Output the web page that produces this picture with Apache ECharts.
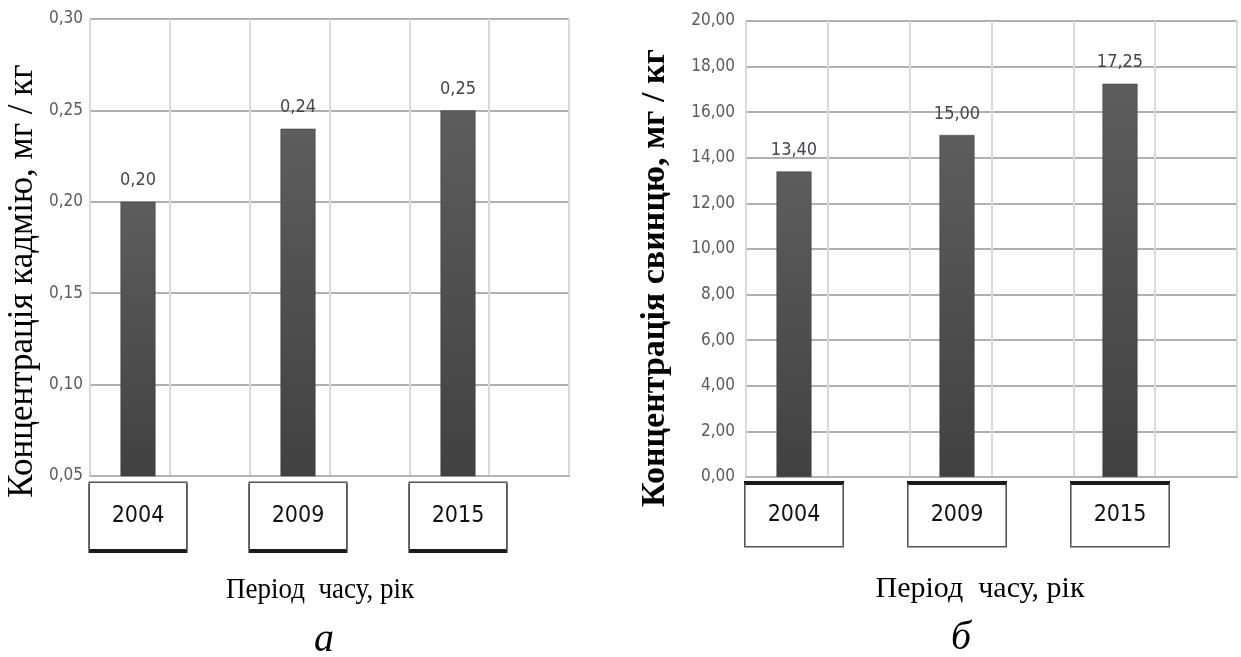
<!DOCTYPE html>
<html>
<head>
<meta charset="utf-8">
<script src="https://cdn.jsdelivr.net/npm/echarts@6/dist/echarts.min.js"></script>
<style>
html,body{margin:0;padding:0;background:#fff;}
#chart{width:1241px;height:657px;}
</style>
</head>
<body>
<div id="chart"></div>
<script>
// ---- data ----
const years = ['2004', '2009', '2015'];
const cadmium = [0.20, 0.24, 0.25];
const lead = [13.40, 15.00, 17.25];
const cadmiumAxis = { min: 0.05, max: 0.30, interval: 0.05 };
const leadAxis = { min: 0, max: 20, interval: 2 };
const cadmiumTitle = 'Концентрація кадмію, мг / кг';
const leadTitle = 'Концентрація свинцю, мг / кг';
const xTitle = 'Період  часу, рік';
const captions = ['а', 'б'];

// ---- styles ----
const NARROW = "'Liberation Sans Narrow', 'DejaVu Sans Condensed', sans-serif";
const SERIF = "'Liberation Serif', 'DejaVu Serif', serif";
const fmt = v => Number(v).toFixed(2).replace('.', ',');
const barColor = {
  type: 'linear', x: 0, y: 0, x2: 0, y2: 1,
  colorStops: [{ offset: 0, color: '#5d5d5d' }, { offset: 1, color: '#414141' }]
};

const chart = echarts.init(document.getElementById('chart'), null, { renderer: 'canvas' });

function bgX(gi) {
  return {
    type: 'value', gridIndex: gi, min: 0, max: 6, interval: 1,
    axisLabel: { show: false }, axisTick: { show: false },
    axisLine: { show: true, lineStyle: { color: '#b4b4b4', width: 2 } },
    splitLine: { show: true, lineStyle: { color: '#d9d9d9', width: 2 } }
  };
}
function bgY(gi, ax, margin) {
  return {
    type: 'value', gridIndex: gi, min: ax.min, max: ax.max, interval: ax.interval,
    axisLine: { show: false }, axisTick: { show: false },
    axisLabel: { formatter: fmt, color: '#5a5a62', fontFamily: NARROW, fontSize: 17, margin: margin },
    splitLine: { show: true, lineStyle: { color: '#b0b0b0', width: 2 } }
  };
}
function barX(gi, shadowY, bw, h, margin) {
  return {
    type: 'category', gridIndex: gi, data: years,
    axisLine: { show: false }, axisTick: { show: false }, splitLine: { show: false },
    axisLabel: {
      interval: 0, margin: margin, color: '#111', fontFamily: NARROW, fontSize: 23,
      width: bw, height: h, lineHeight: h, align: 'center',
      backgroundColor: '#fff', borderColor: '#555', borderWidth: 1.5,
      shadowColor: '#1a1a1a', shadowOffsetY: shadowY, shadowBlur: 0
    }
  };
}
function barY(gi, ax) {
  return {
    type: 'value', gridIndex: gi, min: ax.min, max: ax.max, interval: ax.interval,
    show: false, splitLine: { show: false }
  };
}
function barSeries(gi, data) {
  return {
    type: 'bar', xAxisIndex: gi, yAxisIndex: gi, data: data, barWidth: 35,
    itemStyle: { color: barColor, borderColor: '#3a3a3a', borderWidth: 0.5 },
    label: {
      show: true, position: 'top', distance: 12, formatter: p => fmt(p.value),
      color: '#45454d', fontFamily: NARROW, fontSize: 18
    },
    silent: true, animation: false
  };
}

const option = {
  animation: false,
  backgroundColor: '#ffffff',
  grid: [
    { left: 90, top: 19, width: 479, height: 457 },      // left background
    { left: 58, top: 19, width: 480, height: 457 },      // left bars
    { left: 746, top: 21, width: 491, height: 456 },     // right background
    { left: 712.5, top: 21, width: 489, height: 456 }    // right bars
  ],
  xAxis: [
    bgX(0),
    barX(1, 2.5, 96, 66, 7),
    bgX(2),
    barX(3, -2.5, 97, 61, 8)
  ],
  yAxis: [
    bgY(0, cadmiumAxis, 7),
    barY(1, cadmiumAxis),
    bgY(2, leadAxis, 11),
    barY(3, leadAxis)
  ],
  series: [
    { type: 'bar', xAxisIndex: 0, yAxisIndex: 0, data: [] },
    barSeries(1, cadmium),
    { type: 'bar', xAxisIndex: 2, yAxisIndex: 2, data: [] },
    barSeries(3, lead)
  ],
  graphic: [
    { type: 'text', x: 23, y: 281, rotation: Math.PI / 2,
      style: { text: cadmiumTitle, font: '35px ' + SERIF, fill: '#000', textAlign: 'center', textVerticalAlign: 'middle' } },
    { type: 'text', x: 655, y: 278, rotation: Math.PI / 2,
      style: { text: leadTitle, font: 'bold 34px ' + SERIF, fill: '#000', textAlign: 'center', textVerticalAlign: 'middle' } },
    { type: 'text', x: 320, y: 590, scaleX: 0.9,
      style: { text: xTitle, font: '30px ' + SERIF, fill: '#000', textAlign: 'center', textVerticalAlign: 'middle' } },
    { type: 'text', x: 980, y: 589, scaleX: 1.0,
      style: { text: xTitle, font: '30px ' + SERIF, fill: '#000', textAlign: 'center', textVerticalAlign: 'middle' } },
    { type: 'text', x: 324, y: 640,
      style: { text: captions[0], font: 'italic 40px ' + SERIF, fill: '#000', textAlign: 'center', textVerticalAlign: 'middle' } },
    { type: 'text', x: 961, y: 638,
      style: { text: captions[1], font: 'italic 40px ' + SERIF, fill: '#000', textAlign: 'center', textVerticalAlign: 'middle' } }
  ]
};
chart.setOption(option);
</script>
</body>
</html>
